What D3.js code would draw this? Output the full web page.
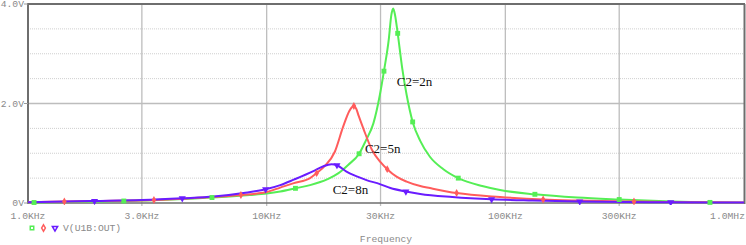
<!DOCTYPE html>
<html>
<head>
<meta charset="utf-8">
<script src="https://cdn.jsdelivr.net/npm/d3@7"></script>
<style>
body { margin: 0; background: #fff; }
</style>
</head>
<body>
<div id="chart"></div>
<script>
// tick labels
const xTicks = [1e3, 3e3, 1e4, 3e4, 1e5, 3e5, 1e6];
const xTickLabels = ['1.0KHz', '3.0KHz', '10KHz', '30KHz', '100KHz', '300KHz', '1.0MHz'];
const yTicks = [0, 2, 4];
const yTickLabels = ['0V', '2.0V', '4.0V'];
const yMinor = [0.5, 1, 1.5, 2.5, 3, 3.5];

// series: [kHz, V]
const c2n = [[1,0.01],[1.5,0.02],[2,0.03],[2.52,0.04],[3,0.05],[4,0.07],[5,0.09],[5.9,0.11],[7,0.13],[8.5,0.16],[10,0.19],[11.4,0.23],[13.2,0.295],[15.2,0.36],[18,0.48],[20,0.6],[22,0.77],[24.4,0.99],[26,1.25],[28,1.6],[29.8,2.17],[31,2.65],[32.5,3.3],[33.3,3.78],[33.9,3.91],[34.5,3.78],[35.4,3.41],[37,2.7],[38.6,2.17],[40.9,1.63],[44,1.25],[48.3,0.93],[55,0.68],[63.5,0.5],[80,0.34],[95,0.26],[133,0.175],[200,0.11],[300,0.07],[500,0.03],[720,0.012],[1000,0.006]];
const c5n = [[1,0.015],[1.42,0.03],[2,0.04],[3.37,0.06],[5,0.1],[7.8,0.16],[10,0.22],[11.4,0.31],[13,0.4],[15.2,0.5],[16.2,0.6],[17.5,0.74],[19.3,1.03],[20.9,1.53],[22.2,1.85],[22.7,1.92],[23.2,1.95],[23.7,1.9],[24.3,1.75],[25.4,1.5],[27.6,1.07],[30,0.82],[32,0.68],[35,0.53],[38.6,0.43],[44,0.34],[48.3,0.3],[62.5,0.2],[95,0.12],[144,0.07],[200,0.05],[346,0.03],[600,0.016],[1000,0.01]];
const c8n = [[1,0.015],[1.9,0.04],[3,0.06],[4.43,0.095],[6,0.13],[8,0.2],[9.9,0.275],[11.4,0.36],[13,0.47],[15.7,0.64],[17.3,0.74],[18.7,0.78],[19.7,0.76],[21.6,0.63],[24,0.53],[26.2,0.46],[29.8,0.38],[33,0.3],[38.3,0.23],[44,0.18],[60,0.12],[87.6,0.074],[130,0.05],[205,0.03],[493,0.015],[1000,0.008]];

// marker points
const c2nMarks = [[1.06,0.01],[2.52,0.04],[5.9,0.11],[13.2,0.295],[24.4,0.99],[31,2.65],[35.4,3.41],[40.9,1.63],[63.5,0.5],[133,0.175],[300,0.07],[720,0.012]];
const c5nMarks = [[1.42,0.03],[3.37,0.06],[7.8,0.16],[16.2,0.6],[23.2,1.95],[32,0.68],[62.5,0.2],[144,0.07],[346,0.03]];
const c8nMarks = [[1.9,0.04],[4.43,0.095],[9.9,0.275],[19.7,0.76],[38.3,0.23],[87.6,0.074],[205,0.03],[493,0.015]];

const seriesNames = ['C2=2n', 'C2=5n', 'C2=8n'];
const labelAt = [[35.1, 2.35], [25.8, 1.0], [18.9, 0.18]];   // kHz, V of label start
const legendText = 'V(U1B:OUT)';
const xTitle = 'Frequency';

const width = 746, height = 245;
const mLeft = 28, mRight = 744, mTop = 4, mBottom = 203;
const monoFont = '"Liberation Mono", "Courier New", monospace';
const grey = '#8a8a8a';

let svg = d3.select('#chart').append('svg')
  .attr('width', width).attr('height', height);

const x = d3.scaleLog().domain([1e3, 1e6]).range([mLeft, mRight]);
const y = d3.scaleLinear().domain([0, 4]).range([mBottom, mTop]);

// dotted minor grid
svg.append('g').selectAll('line').data(yMinor).enter().append('line')
  .attr('x1', mLeft).attr('x2', mRight)
  .attr('y1', d => y(d)).attr('y2', d => y(d))
  .attr('stroke', '#cfcfcf').attr('stroke-width', 1)
  .attr('stroke-dasharray', '1,1');

// solid grid
svg.append('g').selectAll('line').data(xTicks.slice(1, -1)).enter().append('line')
  .attr('x1', d => x(d)).attr('x2', d => x(d))
  .attr('y1', mTop).attr('y2', mBottom + 3)
  .attr('stroke', '#bdbdbd').attr('stroke-width', 1.3);
svg.append('line')
  .attr('x1', mLeft).attr('x2', mRight)
  .attr('y1', y(2)).attr('y2', y(2))
  .attr('stroke', '#bdbdbd').attr('stroke-width', 1.3);

// frame
svg.append('line').attr('x1', mLeft - 1).attr('x2', mRight + 1).attr('y1', mTop).attr('y2', mTop)
  .attr('stroke', '#6e6e6e').attr('stroke-width', 2);
svg.append('line').attr('x1', mLeft).attr('x2', mLeft).attr('y1', mTop).attr('y2', mBottom + 1)
  .attr('stroke', '#6e6e6e').attr('stroke-width', 2);
svg.append('line').attr('x1', mRight + 0.5).attr('x2', mRight + 0.5).attr('y1', mTop).attr('y2', mBottom + 1)
  .attr('stroke', '#6e6e6e').attr('stroke-width', 2);
svg.append('line').attr('x1', mLeft).attr('x2', mRight).attr('y1', y(0)).attr('y2', y(0))
  .attr('stroke', '#6e6e6e').attr('stroke-width', 1.5);

// y ticks + labels
const yAxis = svg.append('g');
yAxis.selectAll('line').data(yTicks).enter().append('line')
  .attr('x1', mLeft - 4).attr('x2', mLeft)
  .attr('y1', d => y(d)).attr('y2', d => y(d))
  .attr('stroke', '#9a9a9a').attr('stroke-width', 1);
yAxis.selectAll('text').data(yTicks).enter().append('text')
  .attr('x', mLeft - 4).attr('y', d => y(d))
  .attr('dy', '0.35em')
  .attr('text-anchor', 'end')
  .style('font-family', monoFont).style('font-size', '9.7px')
  .style('fill', grey)
  .text((d, i) => yTickLabels[i]);

// x labels (last one kept inside the window)
svg.append('g').selectAll('text').data(xTicks).enter().append('text')
  .attr('x', (d, i) => i === xTicks.length - 1 ? width - 1 : x(d)).attr('y', 219)
  .attr('text-anchor', (d, i) => i === xTicks.length - 1 ? 'end' : 'middle')
  .style('font-family', monoFont).style('font-size', '9.7px')
  .style('fill', grey)
  .text((d, i) => xTickLabels[i]);

svg.append('text')
  .attr('x', (mLeft + mRight) / 2).attr('y', 242)
  .attr('text-anchor', 'middle')
  .style('font-family', monoFont).style('font-size', '9.7px')
  .style('fill', grey)
  .text(xTitle);

// curves
svg.append('clipPath').attr('id', 'plotclip').append('rect')
  .attr('x', mLeft).attr('y', mTop).attr('width', mRight - mLeft).attr('height', mBottom - mTop + 2);

const series = [
  {pts: c2n, marks: c2nMarks, color: '#55ee55', sym: d3.symbolSquare, size: 24, rot: 0},
  {pts: c5n, marks: c5nMarks, color: '#ff5c5c', sym: d3.symbolDiamond, size: 18, rot: 0},
  {pts: c8n, marks: c8nMarks, color: '#6a1cff', sym: d3.symbolTriangle, size: 22, rot: 180}
];

const line = d3.line()
  .x(d => x(d[0] * 1000))
  .y(d => y(d[1]))
  .curve(d3.curveMonotoneX);

const plot = svg.append('g').attr('clip-path', 'url(#plotclip)');
series.forEach(s => {
  plot.append('path')
    .attr('d', line(s.pts))
    .attr('fill', 'none')
    .attr('stroke', s.color)
    .attr('stroke-width', 2);
});
series.forEach(s => {
  plot.append('g').selectAll('path').data(s.marks).enter().append('path')
    .attr('d', d3.symbol().type(s.sym).size(s.size))
    .attr('transform', d => `translate(${x(d[0] * 1000)},${y(d[1])}) rotate(${s.rot})`)
    .attr('fill', s.color);
});

// curve labels
svg.append('g').selectAll('text').data(labelAt).enter().append('text')
  .attr('x', d => x(d[0] * 1000)).attr('y', d => y(d[1]))
  .style('font-family', '"Liberation Serif", "Times New Roman", serif')
  .style('font-size', '13px')
  .style('fill', '#111')
  .text((d, i) => seriesNames[i]);

// legend
const legend = svg.append('g');
series.forEach((s, i) => {
  legend.append('path')
    .attr('d', d3.symbol().type(s.sym).size(12))
    .attr('transform', `translate(${32 + i * 11.5},228) rotate(${s.rot})`)
    .attr('fill', 'none')
    .attr('stroke', s.color)
    .attr('stroke-width', 1.5);
});
legend.append('text')
  .attr('x', 63).attr('y', 231)
  .style('font-family', monoFont).style('font-size', '9.7px')
  .style('fill', grey)
  .text(legendText);
</script>
</body>
</html>
